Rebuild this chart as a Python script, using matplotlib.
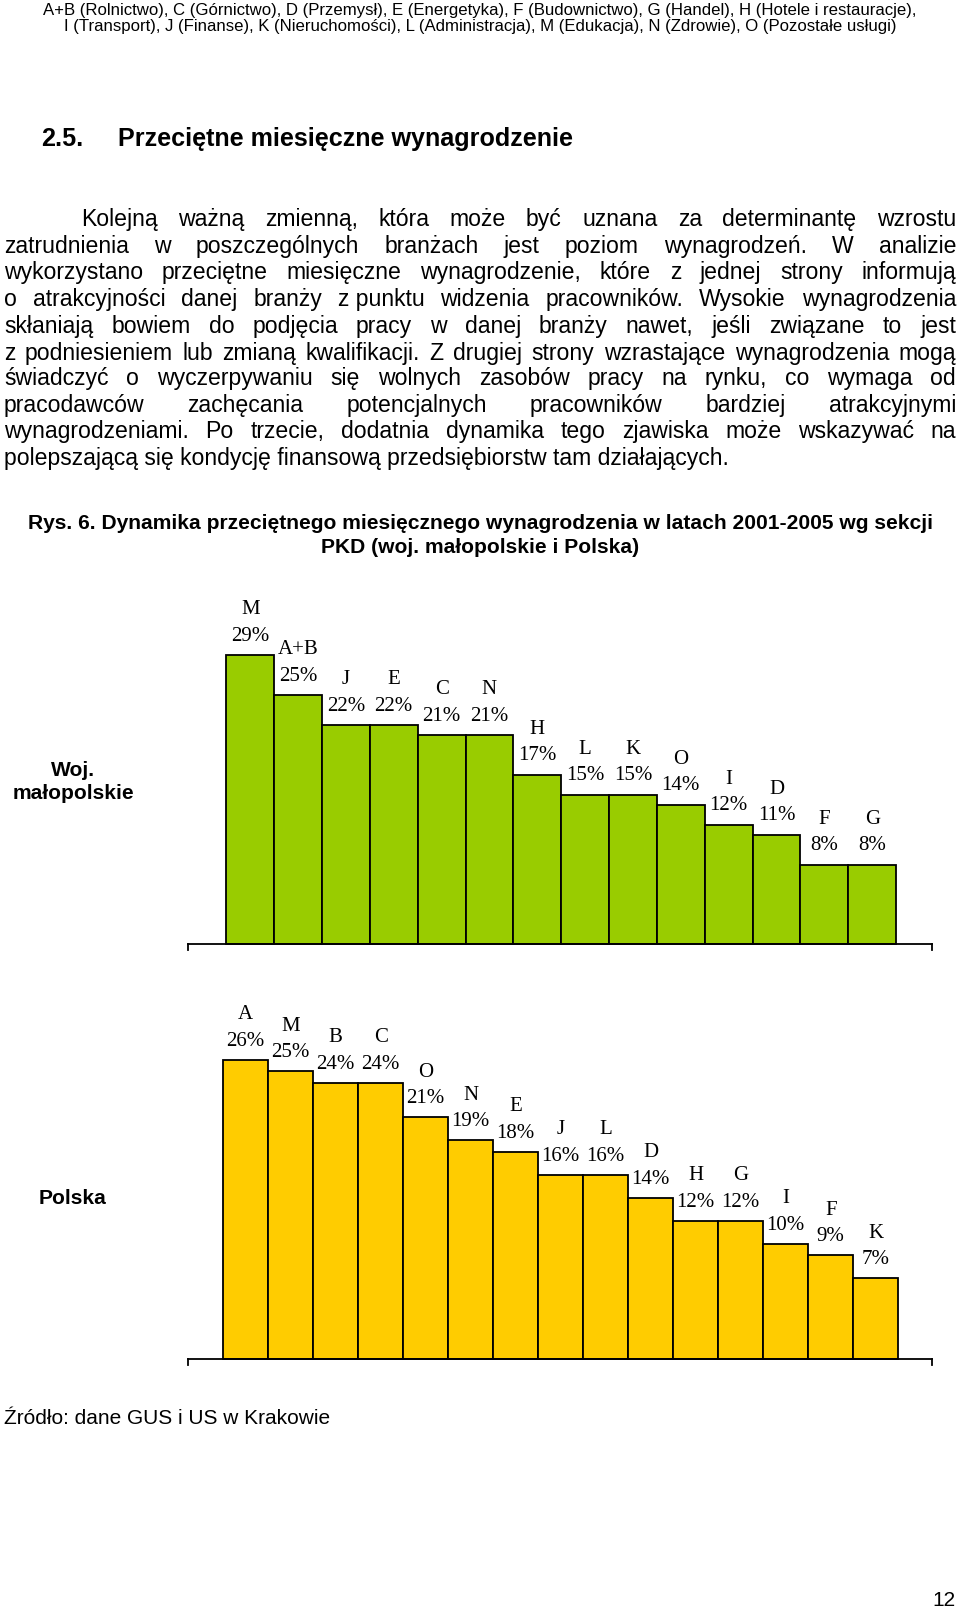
import matplotlib
matplotlib.use("Agg")
import matplotlib.pyplot as plt

# ---------------- data ----------------
malo_sections = ["M", "A+B", "J", "E", "C", "N", "H", "L", "K", "O", "I", "D", "F", "G"]
malo_values = [29, 25, 22, 22, 21, 21, 17, 15, 15, 14, 12, 11, 8, 8]

pl_sections = ["A", "M", "B", "C", "O", "N", "E", "J", "L", "D", "H", "G", "I", "F", "K"]
pl_values = [26, 25, 24, 24, 21, 19, 18, 16, 16, 14, 12, 12, 10, 9, 7]

header_lines = [
    "A+B (Rolnictwo), C (Górnictwo), D (Przemysł), E (Energetyka), F (Budownictwo), G (Handel), H (Hotele i restauracje),",
    "I (Transport), J (Finanse), K (Nieruchomości), L (Administracja), M (Edukacja), N (Zdrowie), O (Pozostałe usługi)",
]
heading_num = "2.5."
heading_txt = "Przeciętne miesięczne wynagrodzenie"
paragraph = [
    "Kolejną ważną zmienną, która może być uznana za determinantę wzrostu",
    "zatrudnienia w poszczególnych branżach jest poziom wynagrodzeń. W analizie",
    "wykorzystano przeciętne miesięczne wynagrodzenie, które z jednej strony informują",
    "o atrakcyjności danej branży z\u00a0punktu widzenia pracowników. Wysokie wynagrodzenia",
    "skłaniają bowiem do podjęcia pracy w danej branży nawet, jeśli związane to jest",
    "z podniesieniem lub zmianą kwalifikacji. Z drugiej strony wzrastające wynagrodzenia mogą",
    "świadczyć o wyczerpywaniu się wolnych zasobów pracy na rynku, co wymaga od",
    "pracodawców zachęcania potencjalnych pracowników bardziej atrakcyjnymi",
    "wynagrodzeniami. Po trzecie, dodatnia dynamika tego zjawiska może wskazywać na",
    "polepszającą się kondycję finansową przedsiębiorstw tam działających.",
]
caption = [
    "Rys. 6. Dynamika przeciętnego miesięcznego wynagrodzenia w latach 2001-2005 wg sekcji",
    "PKD (woj. małopolskie i Polska)",
]
label_malo = "Woj.\nmałopolskie"
label_pl = "Polska"
source = "Źródło: dane GUS i US w Krakowie"
page_no = "12"

# ---------------- layout ----------------
W, H = 960, 1613
fig = plt.figure(figsize=(W / 100, H / 100), dpi=100)
renderer = fig.canvas.get_renderer()
SANS = "Liberation Sans"
SERIF = "Liberation Serif"


def fx(x):
    return x / W


def fy(y):
    return 1 - y / H


def width_of(s, size, weight="normal", family=SANS):
    t = fig.text(0, 0, s, fontsize=size, fontweight=weight, family=family)
    w = t.get_window_extent(renderer).width
    t.remove()
    return w


def fit_size(s, target, weight="normal", family=SANS):
    return 10 * target / width_of(s, 10, weight, family)


def put(x, y, s, size, ha="left", weight="normal", family=SANS, va="center"):
    return fig.text(fx(x), fy(y), s, fontsize=size, ha=ha, va=va,
                    fontweight=weight, family=family, color="black")


# header
hs = fit_size(header_lines[0], 874)
put(480, 10, header_lines[0], hs, ha="center")
put(480, 27, header_lines[1], hs, ha="center")

# heading
hds = fit_size(heading_txt, 455, weight="bold")
put(41, 139, heading_num, hds, weight="bold")
put(118, 139, heading_txt, hds, weight="bold")

# paragraph (justified), words placed on a common baseline
ps = fit_size(paragraph[-1], 729)
em = ps * 100 / 72
line_y = [218, 245, 271.5, 298, 325, 352, 377.5, 404, 430, 457]
L, R = 4, 956
for i, (line, y) in enumerate(zip(paragraph, line_y)):
    base = y + 0.345 * em
    left = 81 if i == 0 else L
    if i == len(paragraph) - 1:
        put(left, base, line, ps, va="baseline")
        continue
    words = line.split(" ")
    ws = [width_of(w, ps) for w in words]
    gap = (R - left - sum(ws)) / (len(words) - 1)
    x = left
    for w, wd in zip(words, ws):
        put(x, base, w, ps, va="baseline")
        x += wd + gap

# caption
cs = fit_size(caption[0], 903, weight="bold")
put(480, 524, caption[0], cs, ha="center", weight="bold")
put(480, 548, caption[1], cs, ha="center", weight="bold")

# side labels
ls = fit_size("małopolskie", 121, weight="bold")
fig.text(fx(73), fy(782), label_malo, fontsize=ls, ha="center", va="center",
         fontweight="bold", family=SANS, linespacing=1.3)
put(73, 1198, label_pl, ls, ha="center", weight="bold")

# source & page number
ss = fit_size(source, 327)
put(4, 1418, source, ss)
put(956, 1601, page_no, ss, ha="right")


# ---------------- charts ----------------
def bar_chart(rect, cats, vals, color, xlim, ylim):
    ax = fig.add_axes(rect)
    xs = list(range(len(cats)))
    ax.bar(xs, vals, width=1.0, color=color, edgecolor="black", linewidth=1.3,
           align="center", zorder=2)
    ax.set_xlim(*xlim)
    ax.set_ylim(*ylim)
    ax.set_xticks([])
    ax.set_yticks([])
    ax.patch.set_visible(False)
    ax.spines["top"].set_visible(False)
    ax.spines["bottom"].set_position(("data", 0))
    ax.spines["left"].set_bounds(ylim[0], 0)
    ax.spines["right"].set_bounds(ylim[0], 0)
    for sp in ("bottom", "left", "right"):
        ax.spines[sp].set_linewidth(1.3)
    for x, v, c in zip(xs, vals, cats):
        ax.annotate(f"{v}%", (x, v), xytext=(0, 13.5), textcoords="offset points",
                    ha="center", va="center", fontsize=15, family=SERIF,
                    annotation_clip=False)
        ax.annotate(c, (x, v), xytext=(0, 32.5), textcoords="offset points",
                    ha="center", va="center", fontsize=15, family=SERIF,
                    annotation_clip=False)
    return ax


# chart 1: baseline at y=944.4 px, 9.98 px per percent
ylim1 = (-0.6, 35)
ppu1 = 9.98
bot1 = 944.4 + (-ylim1[0]) * ppu1
h1 = (ylim1[1] - ylim1[0]) * ppu1
bar_chart([fx(188), fy(bot1), 744 / W, h1 / H], malo_sections, malo_values,
          "#99CC00", (-1.3, 14.25), ylim1)

# chart 2: baseline at y=1358.9 px, 11.5 px per percent
ylim2 = (-0.5, 30)
ppu2 = 11.5
bot2 = 1358.9 + (-ylim2[0]) * ppu2
h2 = (ylim2[1] - ylim2[0]) * ppu2
bar_chart([fx(188), fy(bot2), 744 / W, h2 / H], pl_sections, pl_values,
          "#FFCC00", (-1.28, 15.25), ylim2)

fig.savefig("out.png", dpi=100, facecolor="white")
